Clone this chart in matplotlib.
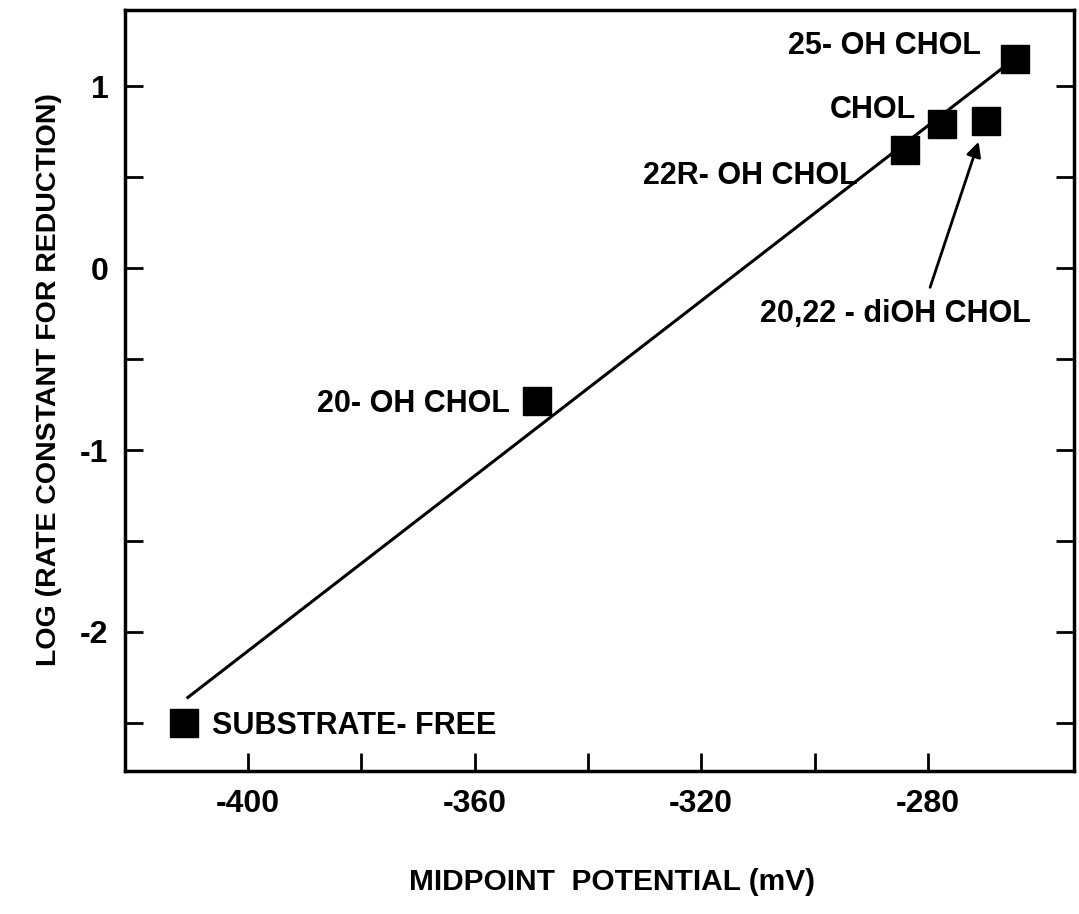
import numpy as np
import matplotlib
matplotlib.use("Agg")
import matplotlib.pyplot as plt

plt.rcParams['font.family'] = ['Liberation Sans', 'DejaVu Sans']
plt.rcParams['font.weight'] = 'bold'
plt.rcParams['axes.unicode_minus'] = False

# data
names = ['SUBSTRATE- FREE', '20- OH CHOL', '22R- OH CHOL', 'CHOL', '20,22 - diOH CHOL', '25- OH CHOL']
potential = [-411.3, -349.0, -284.1, -277.5, -269.8, -264.7]   # mV
log_k = [-2.50, -0.73, 0.65, 0.79, 0.81, 1.15]

# regression line end points
fit_x = [-410.6, -264.7]
fit_y = [-2.36, 1.15]

x_ticks = [-400, -380, -360, -340, -320, -300, -280]
x_labels = ['-400', '', '-360', '', '-320', '', '-280']
y_ticks = [-2.5, -2.0, -1.5, -1.0, -0.5, 0.0, 0.5, 1.0]
y_labels = ['', '-2', '', '-1', '', '0', '', '1']

fig = plt.figure(figsize=(10.79, 9.14), dpi=100)
ax = fig.add_axes([0.1158, 0.1565, 0.8796, 0.8325])

ax.plot(fit_x, fit_y, color='black', lw=2.2, zorder=2)
ax.plot(potential, log_k, 's', color='black', ms=20, zorder=3)

# label offsets in points relative to each marker
offsets = [
    ((20, -2), 'left'),
    ((-19, -2), 'right'),
    ((-34, -19), 'right'),
    ((-19, 10), 'right'),
    ((-65, -139), 'center'),
    ((-24, 9), 'right'),
]
for n, x, y, (off, ha) in zip(names, potential, log_k, offsets):
    ax.annotate(n, xy=(x, y), xytext=off, textcoords='offset points',
                ha=ha, va='center', fontsize=22, fontweight='bold')

# arrow pointing at 20,22-diOH CHOL
i = 4
ax.annotate('', xy=(potential[i], log_k[i]), xytext=(-40, -120), textcoords='offset points',
            arrowprops=dict(arrowstyle='-|>', color='black', lw=2, mutation_scale=22,
                            shrinkA=0, shrinkB=16))

ax.set_xlim(-421.7, -254.2)
ax.set_ylim(-2.764, 1.418)
ax.set_xticks(x_ticks)
ax.set_xticklabels(x_labels)
ax.set_yticks(y_ticks)
ax.set_yticklabels(y_labels)
ax.tick_params(axis='x', direction='in', length=13, width=2, labelsize=23, pad=13)
ax.tick_params(axis='y', direction='in', length=13, width=2, labelsize=23, pad=12,
               right=True)
for s in ax.spines.values():
    s.set_linewidth(2.5)

ax.set_xlabel('MIDPOINT  POTENTIAL (mV)', fontsize=21.5, fontweight='bold')
ax.xaxis.set_label_coords(0.513, -0.127)
ax.set_ylabel('LOG (RATE CONSTANT FOR REDUCTION)', fontsize=20.5, fontweight='bold')
ax.yaxis.set_label_coords(-0.066, 0.514)

fig.savefig('out.png', dpi=100)
